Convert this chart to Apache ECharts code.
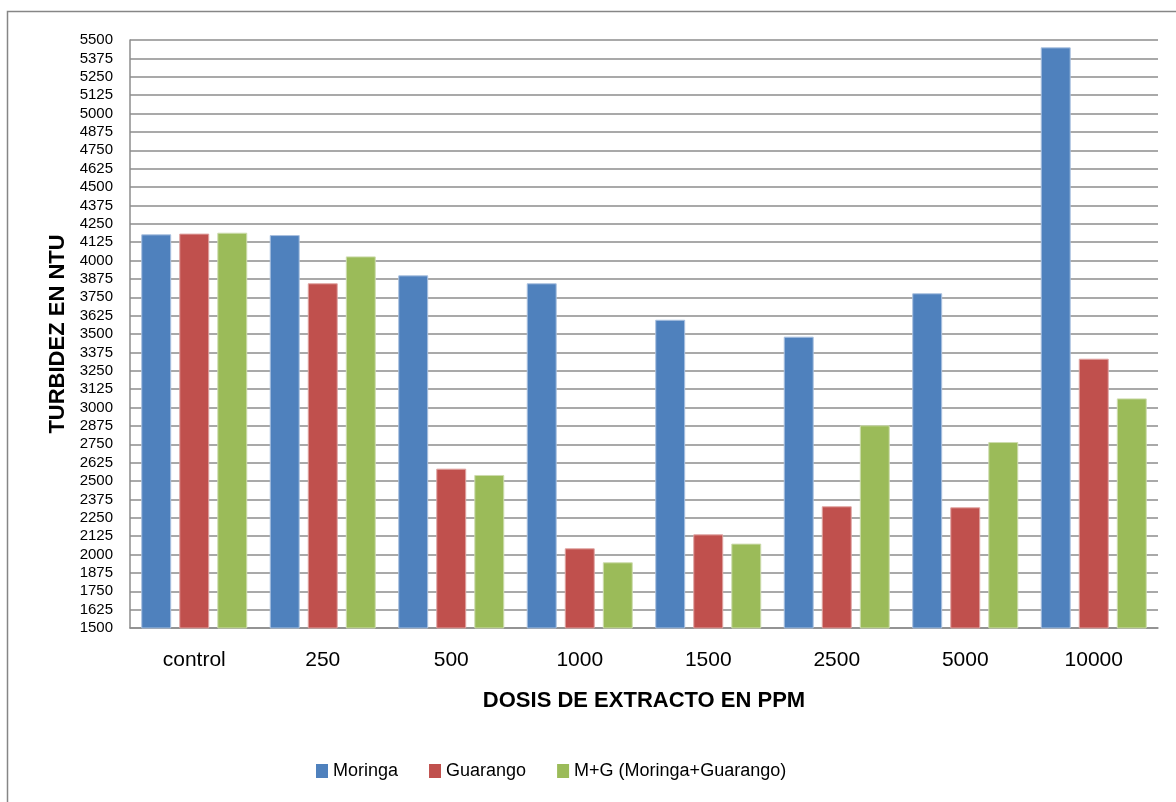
<!DOCTYPE html>
<html>
<head>
<meta charset="utf-8">
<title>Turbidez vs dosis de extracto</title>
<script src="https://cdn.jsdelivr.net/npm/echarts@6/dist/echarts.min.js"></script>
<style>
  html, body { margin: 0; padding: 0; background: #ffffff; }
  #chart { width: 1176px; height: 802px; }
</style>
</head>
<body>
<div id="chart"></div>
<script>
// Dosis de extracto (ppm) en el eje de categorías
const categories = ['control', '250', '500', '1000', '1500', '2500', '5000', '10000'];

// Turbidez medida (NTU) para cada coagulante
const moringa  = [4178, 4173, 3899, 3845, 3597, 3482, 3777, 5450];
const guarango = [4183, 3845, 2584, 2042, 2137, 2328, 2321, 3332];
const mezcla   = [4189, 4028, 2541, 1947, 2074, 2879, 2765, 3062];

const seriesNames = ['Moringa', 'Guarango', 'M+G (Moringa+Guarango)'];

// Escala del eje de turbidez
const yMin = 1500;
const yMax = 5500;
const yStep = 125;

const FONT = '"Liberation Sans", Arial, sans-serif';
const GRID_COLOR = '#8c8c8c';

const chart = echarts.init(document.getElementById('chart'), null, { renderer: 'canvas' });

function barSeries(name, data, color, edge) {
  return {
    name: name,
    type: 'bar',
    data: data,
    barGap: '27%',
    barCategoryGap: '17.5%',
    itemStyle: { color: color, borderColor: edge, borderWidth: 1 },
    emphasis: { disabled: true }
  };
}

chart.setOption({
  animation: false,
  backgroundColor: '#ffffff',
  textStyle: { fontFamily: FONT, color: '#000000' },
  // marco exterior del gráfico
  graphic: [{
    type: 'rect',
    shape: { x: 7.5, y: 11.5, width: 1200, height: 900 },
    style: { fill: 'none', stroke: '#868686', lineWidth: 1.5 },
    silent: true
  }],
  grid: { left: 130, right: 18, top: 40, bottom: 174, containLabel: false },
  legend: {
    left: 311,
    top: 757,
    icon: 'rect',
    itemWidth: 12,
    itemHeight: 14,
    itemGap: 31,
    itemStyle: { borderWidth: 0 },
    textStyle: { fontFamily: FONT, fontSize: 18, color: '#000000' },
    data: seriesNames
  },
  xAxis: {
    type: 'category',
    data: categories,
    name: 'DOSIS DE EXTRACTO EN PPM',
    nameLocation: 'middle',
    nameGap: 62,
    nameTextStyle: { fontFamily: FONT, fontSize: 22, fontWeight: 'bold', color: '#000000' },
    axisLine: { lineStyle: { color: GRID_COLOR, width: 1.5 } },
    axisTick: { show: false },
    axisLabel: { fontFamily: FONT, fontSize: 21, color: '#000000', margin: 22 }
  },
  yAxis: {
    type: 'value',
    min: yMin,
    max: yMax,
    interval: yStep,
    name: 'TURBIDEZ EN NTU',
    nameLocation: 'middle',
    nameGap: 59,
    nameRotate: 90,
    nameTextStyle: { fontFamily: FONT, fontSize: 22, fontWeight: 'bold', color: '#000000' },
    axisLine: { show: true, lineStyle: { color: GRID_COLOR, width: 1.5 } },
    axisTick: { show: false },
    axisLabel: {
      fontFamily: FONT, fontSize: 15, color: '#000000', margin: 17,
      formatter: function (v) { return String(v); }
    },
    splitLine: { show: true, lineStyle: { color: GRID_COLOR, width: 1.5 } }
  },
  series: [
    barSeries(seriesNames[0], moringa, '#4F81BD', '#a9c0df'),
    barSeries(seriesNames[1], guarango, '#C0504D', '#dfa3a1'),
    barSeries(seriesNames[2], mezcla, '#9BBB59', '#cddcad')
  ]
});
</script>
</body>
</html>
